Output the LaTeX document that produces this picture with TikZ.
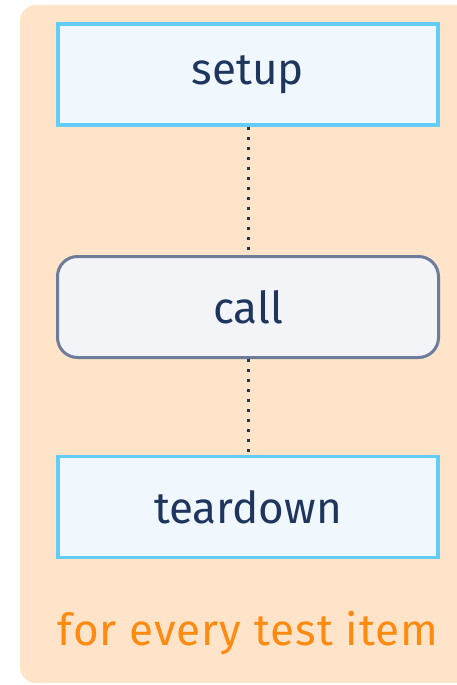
\documentclass[tikz,border=0pt]{standalone}
\usepackage{fontspec}
\setmainfont{Fira Sans}
\definecolor{bgpeach}{HTML}{FFE4CA}
\definecolor{boxfill}{HTML}{F1F8FD}
\definecolor{boxline}{HTML}{62CDF6}
\definecolor{callfill}{HTML}{F3F4F7}
\definecolor{callline}{HTML}{6E7C9C}
\definecolor{navy}{HTML}{1E355E}
\definecolor{orangetxt}{HTML}{FF8A10}
\begin{document}
\begin{tikzpicture}[x=1pt,y=-1pt,
  stepbox/.style={draw=boxline, fill=boxfill, line width=3.5pt, minimum width=380pt, minimum height=101pt, inner sep=0pt, text=navy, font=\fontsize{44}{52}\selectfont},
  callbox/.style={draw=callline, fill=callfill, line width=3pt, rounded corners=20pt, minimum width=381pt, minimum height=101pt, inner sep=0pt, text=navy, font=\fontsize{44}{52}\selectfont},
  link/.style={draw=navy, line width=3pt, dash pattern=on 3pt off 7pt, line cap=butt}]
\useasboundingbox (0,0) rectangle (457,685);
\fill[bgpeach, rounded corners=16pt] (20,5) rectangle (480,683);
\node[stepbox] (setup) at (248,74.5) {setup};
\node[callbox] (call) at (248,307) {call};
\node[stepbox] (teardown) at (248,507) {teardown};
\node[text=orangetxt, font=\fontsize{44}{52}\selectfont\addfontfeatures{LetterSpace=2.4}, anchor=base] (label) at (248,645) {for every test item};
\draw[link] (setup.south) -- (call.north);
\draw[link] (call.south) -- (teardown.north);
\end{tikzpicture}
\end{document}
